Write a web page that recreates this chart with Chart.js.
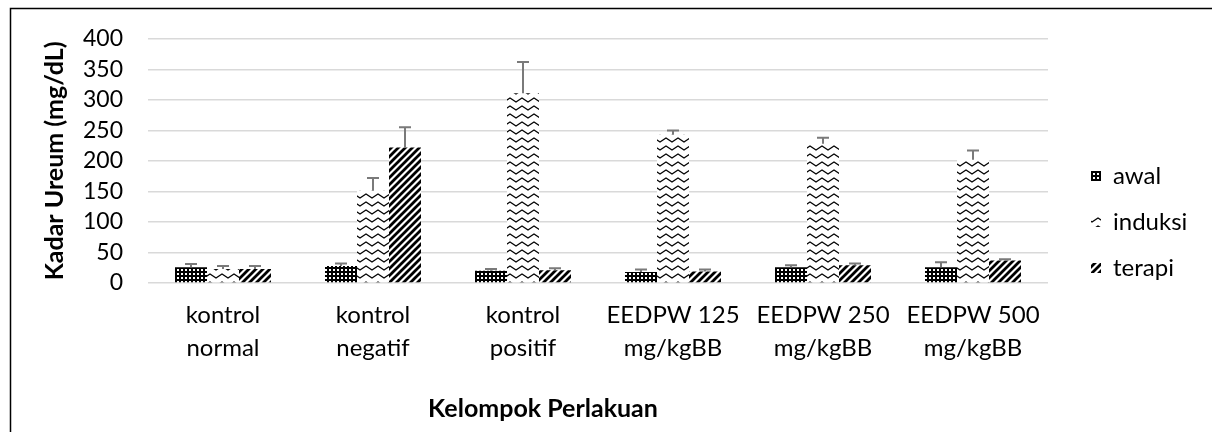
<!DOCTYPE html>
<html>
<head>
<meta charset="utf-8">
<script src="https://cdn.jsdelivr.net/npm/chart.js@4.4.1/dist/chart.umd.min.js"></script>
<style>
  html, body { margin: 0; padding: 0; background: #fff; }
  #wrap { position: absolute; left: 0; top: 0; width: 1212px; height: 432px; }
</style>
</head>
<body>
<div id="wrap"><canvas id="c" width="1212" height="432"></canvas></div>
<script>
// ---- data ----
const categories = [
  ['kontrol', 'normal'],
  ['kontrol', 'negatif'],
  ['kontrol', 'positif'],
  ['EEDPW 125', 'mg/kgBB'],
  ['EEDPW 250', 'mg/kgBB'],
  ['EEDPW 500', 'mg/kgBB']
];
const seriesNames = ['awal', 'induksi', 'terapi'];
const awal = [26, 28, 20, 18, 26, 26];
const awalErr = [5, 4, 3, 4, 3, 8];
const induksi = [23, 151, 311, 243, 228, 202];
const induksiErr = [5, 21, 51, 7, 10, 15];
const terapi = [23, 222, 21, 19, 29, 37];
const terapiErr = [5, 33, 3, 3, 3, 2];
const yTicks = { min: 0, max: 400, step: 50 };
const xTitle = 'Kelompok Perlakuan';
const yTitle = 'Kadar Ureum (mg/dL)';

const FONT = 'Lato, "Open Sans", "DejaVu Sans", sans-serif';

// ---- patterns ----
function makePattern(w, h, draw) {
  const c = document.createElement('canvas');
  c.width = w; c.height = h;
  const g = c.getContext('2d');
  g.fillStyle = '#fff';
  g.fillRect(0, 0, w, h);
  draw(g, w, h);
  return document.getElementById('c').getContext('2d').createPattern(c, 'repeat');
}
const patAwal = makePattern(4, 4, (g) => {
  g.fillStyle = '#000';
  g.fillRect(0, 0, 4, 4);
  g.fillStyle = '#fff';
  g.fillRect(1, 1, 2, 2);
});
const patInduksi = makePattern(12, 8, (g) => {
  g.strokeStyle = '#000';
  g.lineWidth = 1.2;
  g.beginPath();
  g.moveTo(-6, 2); g.lineTo(0, 6); g.lineTo(6, 2); g.lineTo(12, 6); g.lineTo(18, 2);
  g.stroke();
});
const patTerapi = makePattern(7, 7, (g) => {
  g.strokeStyle = '#000';
  g.lineWidth = 2.8;
  g.beginPath();
  for (let k = -7; k <= 14; k += 7) {
    g.moveTo(k - 1, 8); g.lineTo(k + 8, -1);
  }
  g.stroke();
});
const patterns = [patAwal, patInduksi, patTerapi];
const values = [awal, induksi, terapi];
const errors = [awalErr, induksiErr, terapiErr];

// ---- plugins ----
const framePlugin = {
  id: 'frame',
  beforeDraw(chart) {
    const ctx = chart.ctx;
    ctx.save();
    ctx.fillStyle = '#fff';
    ctx.fillRect(0, 0, chart.width, chart.height);
    ctx.strokeStyle = '#000';
    ctx.lineWidth = 1.5;
    ctx.strokeRect(10.5, 8.5, chart.width + 20, chart.height + 20);
    ctx.restore();
  }
};

const errorBarPlugin = {
  id: 'errorBars',
  afterDatasetsDraw(chart) {
    const ctx = chart.ctx;
    const y = chart.scales.y;
    ctx.save();
    ctx.strokeStyle = '#7a7a7a';
    ctx.lineWidth = 2;
    chart.data.datasets.forEach((ds, di) => {
      const meta = chart.getDatasetMeta(di);
      meta.data.forEach((bar, i) => {
        const v = ds.data[i];
        const e = ds.errors[i];
        const yTop = y.getPixelForValue(v + e);
        const yBar = y.getPixelForValue(v);
        const x = bar.x;
        ctx.beginPath();
        ctx.moveTo(x, yBar);
        ctx.lineTo(x, yTop);
        ctx.moveTo(x - 6, yTop);
        ctx.lineTo(x + 6, yTop);
        ctx.stroke();
      });
    });
    ctx.restore();
  }
};

const customTextPlugin = {
  id: 'customText',
  afterDraw(chart) {
    const ctx = chart.ctx;
    const a = chart.chartArea;
    ctx.save();
    // x axis title
    ctx.fillStyle = '#000';
    ctx.font = 'bold 25px ' + FONT;
    ctx.textAlign = 'center';
    ctx.textBaseline = 'middle';
    ctx.fillText(xTitle, (a.left + a.right) / 2 - 55, 409);
    // legend
    ctx.font = '24px ' + FONT;
    ctx.textAlign = 'left';
    const cy = chart.height / 2 + 6;
    chart.data.datasets.forEach((ds, i) => {
      const yc = cy + (i - 1) * 46;
      const sx = a.right + 43;
      ctx.fillStyle = ds.backgroundColor;
      ctx.fillRect(sx, yc - 5, 10, 10);
      ctx.fillStyle = '#000';
      ctx.fillText(ds.label, sx + 22, yc);
    });
    ctx.restore();
  }
};

new Chart(document.getElementById('c'), {
  type: 'bar',
  data: {
    labels: categories,
    datasets: seriesNames.map((name, i) => ({
      label: name,
      data: values[i],
      errors: errors[i],
      backgroundColor: patterns[i],
      borderWidth: 0,
      categoryPercentage: 0.64,
      barPercentage: 1.0
    }))
  },
  options: {
    responsive: false,
    animation: false,
    devicePixelRatio: 1,
    layout: { padding: { left: 40, right: 164, top: 28, bottom: 51 } },
    plugins: {
      legend: { display: false },
      tooltip: { enabled: false }
    },
    scales: {
      x: {
        grid: { display: false, drawTicks: false },
        border: { display: false },
        ticks: {
          color: '#000',
          font: { family: FONT, size: 24, lineHeight: 1.375 },
          padding: 16,
          maxRotation: 0,
          autoSkip: false
        }
      },
      y: {
        min: yTicks.min,
        max: yTicks.max,
        afterFit(s) { s.width = 108; },
        grid: { color: '#d9d9d9', lineWidth: 1.5, drawTicks: false },
        border: { display: false },
        ticks: {
          stepSize: yTicks.step,
          autoSkip: false,
          color: '#000',
          font: { family: FONT, size: 23 },
          padding: 25
        },
        title: {
          display: true,
          text: yTitle,
          color: '#000',
          font: { family: FONT, size: 25, weight: 'bold' },
          padding: { top: 0, bottom: 0 }
        }
      }
    }
  },
  plugins: [framePlugin, errorBarPlugin, customTextPlugin]
});
</script>
</body>
</html>
